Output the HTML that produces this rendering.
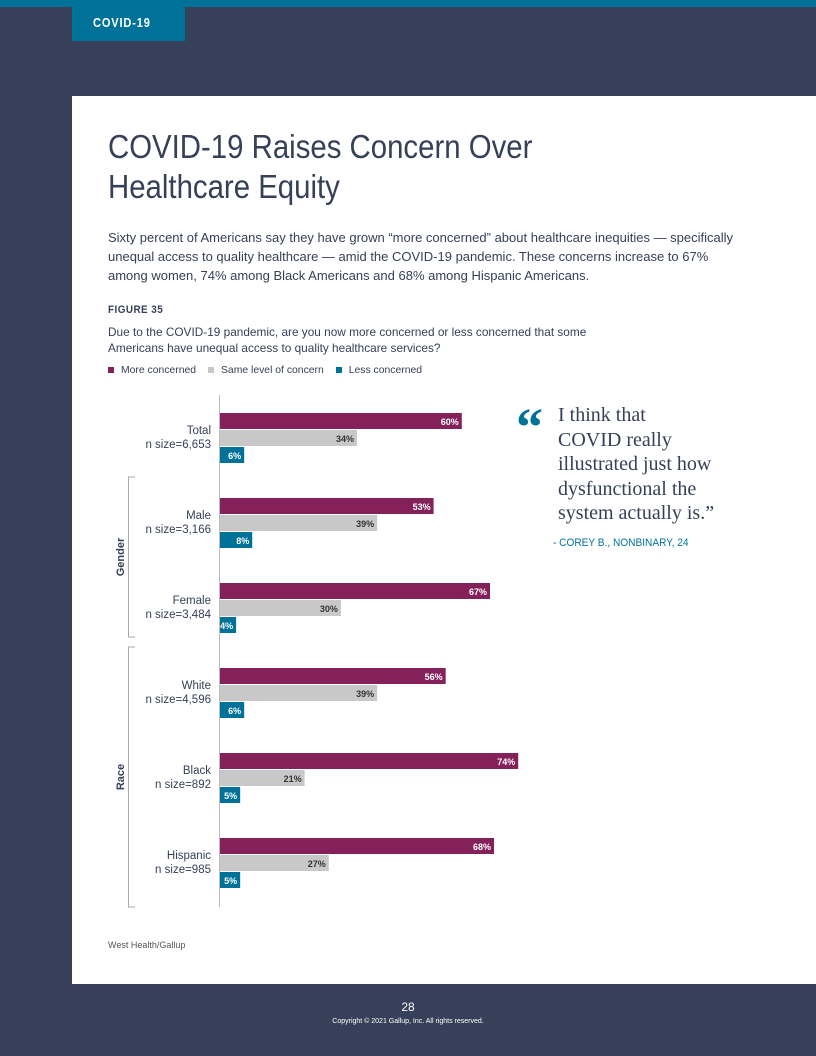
<!DOCTYPE html>
<html><head><meta charset="utf-8"><style>
body{margin:0;width:816px;height:1056px;background:#364058;position:relative;overflow:hidden;font-family:"Liberation Sans",sans-serif}
.abs{position:absolute}
.narrow{font-family:"Liberation Sans",sans-serif;transform-origin:0 0}
</style></head><body>
<div class="abs" style="left:0;top:0;width:816px;height:7px;background:#00729a"></div>
<div class="abs" style="left:72px;top:7px;width:113px;height:34px;background:#00729a"></div>
<div class="abs narrow" style="left:93px;top:8px;color:#fff;font-weight:bold;font-size:13px;letter-spacing:1px;line-height:30px;transform:scaleX(0.85)">COVID-19</div>
<div class="abs" style="left:72px;top:96px;width:744px;height:888px;background:#fff"></div>
<div class="abs narrow" style="left:108px;top:127px;font-size:33px;line-height:40px;color:#364058;transform:scaleX(0.89);white-space:nowrap">COVID-19 Raises Concern Over<br>Healthcare Equity</div>
<div class="abs" style="left:108px;top:228px;width:640px;font-size:13px;line-height:19px;color:#364058">Sixty percent of Americans say they have grown “more concerned” about healthcare inequities — specifically unequal access to quality healthcare — amid the COVID-19 pandemic. These concerns increase to 67% among women, 74% among Black Americans and 68% among Hispanic Americans.</div>
<div class="abs narrow" style="left:108px;top:304px;font-size:11px;font-weight:bold;color:#364058;letter-spacing:.5px;transform:scaleX(0.9)">FIGURE 35</div>
<div class="abs narrow" style="left:108px;top:324px;font-size:12px;line-height:16px;color:#364058;white-space:nowrap;transform:scaleX(0.985)">Due to the COVID-19 pandemic, are you now more concerned or less concerned that some<br>Americans have unequal access to quality healthcare services?</div>
<div class="abs" style="left:108px;top:364px;font-size:10.4px;color:#364058;line-height:14px;white-space:nowrap">
<span><span style="display:inline-block;width:6px;height:6px;background:#84215b;margin-right:7px"></span>More concerned</span>
<span style="margin-left:9px"><span style="display:inline-block;width:6px;height:6px;background:#c8c8c8;margin-right:7px"></span>Same level of concern</span>
<span style="margin-left:9px"><span style="display:inline-block;width:6px;height:6px;background:#00729a;margin-right:7px"></span>Less concerned</span>
</div>
<svg class="abs" id="chart" style="left:0;top:0" width="816" height="1056"></svg>
<div class="abs" style="left:516px;top:400px;font-family:'Liberation Serif',serif;font-size:54px;font-weight:bold;color:#00729a;line-height:54px">“</div>
<div class="abs" style="left:558px;top:403px;font-family:'Liberation Serif',serif;font-size:20px;line-height:24.5px;color:#364058">I think that<br>COVID really<br>illustrated just how<br>dysfunctional the<br>system actually is.”</div>
<div class="abs narrow" style="left:553px;top:537px;font-size:11px;color:#00729a;transform:scaleX(0.92);white-space:nowrap">- COREY B., NONBINARY, 24</div>
<div class="abs" style="left:108px;top:940px;font-size:9px;color:#555">West Health/Gallup</div>
<div class="abs" style="left:0;width:816px;top:1000px;text-align:center;font-size:12px;color:#fff">28</div>
<div class="abs" style="left:0;width:816px;top:1018px;text-align:center;font-size:7px;color:#fff">Copyright © 2021 Gallup, Inc. All rights reserved.</div>
<script>
const categories=["Total","Male","Female","White","Black","Hispanic"];
const nSizes=["6,653","3,166","3,484","4,596","892","985"];
const moreConcerned=[60,53,67,56,74,68];
const sameLevel=[34,39,30,39,21,27];
const lessConcerned=[6,8,4,6,5,5];
const svg=document.getElementById('chart');
const NS='http://www.w3.org/2000/svg';
const x0=220,pxPer=4.03,top0=413,groupGap=85,barH=16;
const xs=v=>v*pxPer;
function mk(t,a){const e=document.createElementNS(NS,t);for(const k in a)e.setAttribute(k,a[k]);svg.appendChild(e);return e;}
const ax=mk('line',{x1:219.5,y1:395,x2:219.5,y2:907,stroke:'#bbb','stroke-width':1});


const series=[[moreConcerned,'#84215b','#fff','more'],[sameLevel,'#c8c8c8','#333','same'],[lessConcerned,'#00729a','#fff','less']];
categories.forEach((c,i)=>{
  const gy=top0+i*groupGap;
  series.forEach((s,j)=>{
    const v=s[0][i],w=xs(v),y=gy+j*(barH+1);
    const r=mk('rect',{x:x0,y:y,width:w,height:barH,fill:s[1]});
    
    
    const t=mk('text',{x:x0+w-3,y:y+12,'text-anchor':'end','font-size':9,'font-weight':'bold',fill:s[2],'font-family':'Liberation Sans, sans-serif'});
    t.textContent=v+'%';
    
    
  });
  const l=mk('text',{x:211,y:gy+21,'text-anchor':'end','font-size':11.5,fill:'#364058','font-family':'Liberation Sans, sans-serif'});
  l.textContent=c;
  
  
  const n=mk('text',{x:211,y:gy+35,'text-anchor':'end','font-size':11.5,fill:'#364058','font-family':'Liberation Sans, sans-serif'});
  n.textContent='n size='+nSizes[i];
  
  
});
[['Gender',477,637],['Race',647,907]].forEach(g=>{
  const p=mk('path',{d:`M135 ${g[1]} H128.5 V${g[2]} H135`,fill:'none',stroke:'#aaa','stroke-width':1});
  
  
  const cy=(g[1]+g[2])/2;
  const t=mk('text',{x:0,y:0,transform:`translate(124 ${cy}) rotate(-90)`,'text-anchor':'middle','font-size':11,'font-weight':'bold',fill:'#364058','font-family':'Liberation Sans, sans-serif'});
  t.textContent=g[0];
  
  
});
</script>
</body></html>
